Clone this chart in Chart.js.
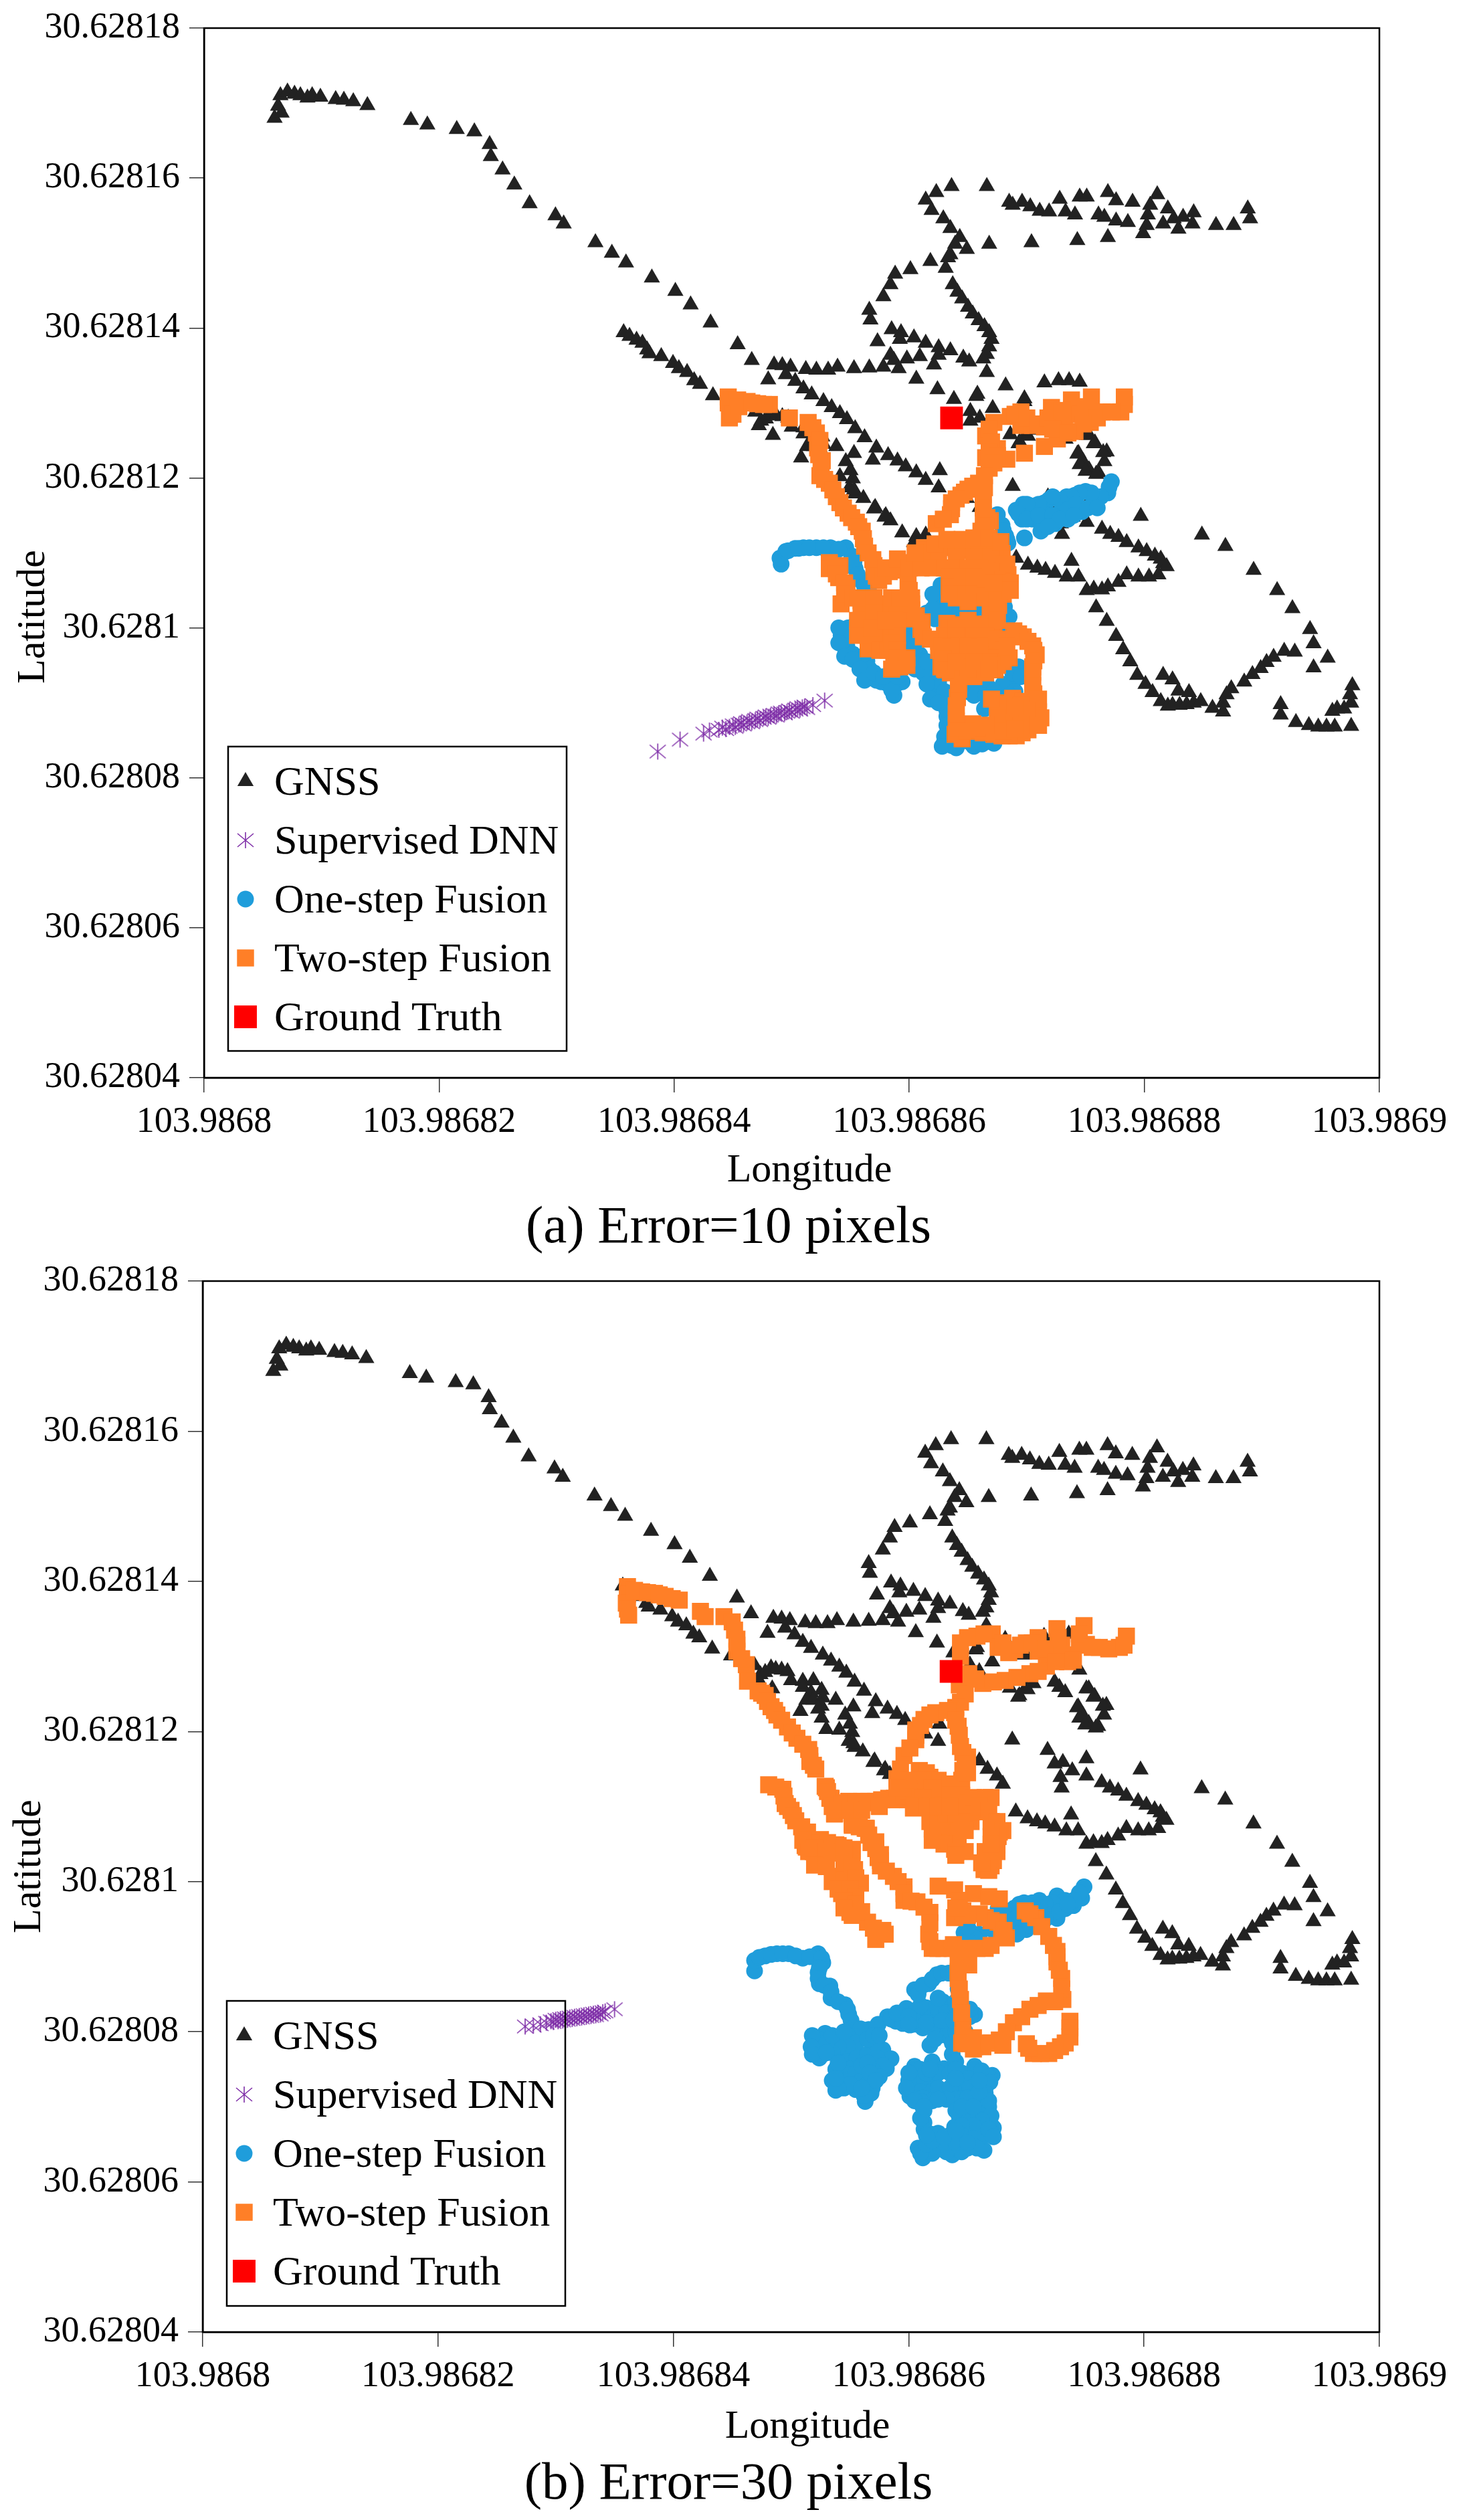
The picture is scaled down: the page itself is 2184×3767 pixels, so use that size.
<!DOCTYPE html>
<html>
<head>
<meta charset="utf-8">
<title>Error=10 and Error=30 pixels</title>
<script src="https://cdn.jsdelivr.net/npm/chart.js@4/dist/chart.umd.min.js"></script>
<style>
  html, body { margin: 0; padding: 0; background: #fff; }
  canvas { position: absolute; left: 0; }
</style>
</head>
<body>
<canvas id="panelA" width="2184" height="1900" style="top:-10px"></canvas>
<canvas id="panelB" width="2184" height="1907" style="top:1860px"></canvas>
<script>
// Tick labels. Points are [lon, lat] in units of 1e-7 degree, from the lower left corner of the axes
const lonTicks = ['103.9868', '103.98682', '103.98684', '103.98686', '103.98688', '103.9869'];
const latTicks = ['30.62804', '30.62806', '30.62808', '30.6281', '30.62812', '30.62814', '30.62816', '30.62818'];
const seriesNames = ['GNSS', 'Supervised DNN', 'One-step Fusion', 'Two-step Fusion', 'Ground Truth'];

const gnss = [
  [60,1280],[66,1287],[63,1296],[65,1310],[71,1315],[77,1312],[82,1310],[88,1307],[92,1310],[99,1308],[112,1305],[119,1304],[127,1302],[139,1297],
  [176,1277],[190,1271],[215,1265],[230,1262],[243,1245],[244,1229],[254,1211],[264,1191],[277,1166],[299,1150],[306,1139],[333,1114],[347,1100],[359,1087],
  [381,1067],[401,1049],[414,1031],[431,1007],[454,978],[466,957],
  [357,994],[362,989],[368,984],[373,980],[377,971],[379,966],[389,962],[399,953],[404,946],[411,941],[417,930],[422,925],[433,910],[449,901],
  [614,1171],[623,1181],[636,1189],[666,1189],[685,1168],[688,1164],[696,1168],[703,1162],[711,1156],[719,1155],[728,1172],[733,1155],[741,1151],[745,1175],
  [751,1175],[761,1151],[766,1148],[769,1181],[776,1170],[776,1143],[786,1141],[790,1168],[805,1164],[803,1151],[802,1137],[811,1178],[816,1139],[820,1159],
  [825,1146],[829,1132],[833,1148],[842,1154],[841,1139],[861,1137],[876,1137],[888,1159],[890,1146],[769,1121],[743,1117],[704,1114],[668,1112],[799,1126],
  [619,1157],[629,1146],[635,1133],[643,1121],[639,1112],[649,1105],[635,1098],[633,1094],[618,1089],[631,1080],[601,1078],[588,1072],[584,1058],[578,1042],
  [566,1024],[567,1011],[637,1058],[641,1048],[645,1039],[650,1028],[654,1019],[659,1010],[664,1002],[668,994],[670,985],[668,975],[666,965],[663,959],[666,941],
  [585,998],[593,994],[592,985],[604,987],[614,980],[625,974],[635,970],[625,964],[646,960],[651,955],[621,951],[609,962],[598,959],[584,964],[573,982],[587,957],
  [591,946],[578,948],[606,932],[624,918],[658,912],[682,923],[715,927],[727,930],[736,930],[745,928],[698,906],[638,905],
  [485,951],[492,950],[499,948],[512,945],[521,944],[531,944],[539,948],[553,946],[566,947],[480,931],[495,938],[503,929],[510,919],[517,911],[527,902],[534,894],
  [541,886],[547,878],[554,866],[562,854],[572,840],[582,830],[590,823],[597,815],[606,807],[614,797],[626,810],[625,787],[649,773],[688,789],[571,761],[580,750],
  [584,743],[594,727],[606,722],[604,714],[614,724],
  [469,888],[474,876],[478,879],[483,885],[487,883],[492,882],[497,880],[500,868],[510,867],[510,859],[519,868],[526,855],[517,852],[484,857],[472,870],
  [513,842],[519,842],[527,845],[526,834],[538,842],[523,830],[508,827],[526,818],[530,803],[541,802],[546,822],[553,833],[550,810],[552,799],[549,787],[554,779],
  [561,773],[553,784],[569,824],[570,759],[579,748],
  [718,775],[724,757],[731,759],[739,748],[751,764],[751,741],[729,739],[730,725],[797,749],[764,732],[771,725],[778,721],[785,714],[795,707],[802,702],[809,696],
  [816,686],[738,689],[701,684],[709,680],[716,677],[724,673],[734,668],[744,668],[751,650],[757,652],[764,651],[769,655],[778,661],[785,671],[795,668],[804,668],
  [812,671],[691,693],[680,730],[675,741],[667,750],[660,761],
  [759,627],[768,609],[776,589],[782,571],[788,555],[794,537],[801,525],[807,514],[814,502],[820,496],[816,537],
  [824,497],[830,497],[836,498],[842,500],[848,502],[824,531],[829,516],[838,514],
  [849,724],[869,709],[893,677],[913,650],[926,626],[941,598],[944,579],[956,560],[944,547],[928,568],[919,569],[910,561],[904,554],[899,546],[892,538],[885,528],
  [874,519],[870,511],[867,500],[858,493],[867,488],[916,498],[916,484],[929,474],[940,470],[948,468],[955,468],[962,468],[976,469],[960,489],[964,492],[970,492],
  [976,500],[975,511],[977,523],[814,692],[819,682],
  [761,807],[766,822],[768,835],[758,847],[753,857],[744,833],[748,822],[753,811],[745,882],[751,857],[757,846],[765,834],[743,832],[745,818],[750,809],[759,805],
  [724,866],[733,852],[706,864],[699,857],[693,846],[671,893],[660,880],[657,909],[698,902],[686,858],[694,848],[701,856],[728,859],[652,889],[652,876]
];

const dnnA = [
  [386,435],[405,451],[425,459],[430,463],[438,464],[441,467],[444,465],[447,468],[450,470],[452,468],[455,471],[457,473],[459,471],[462,474],[464,476],[466,474],[469,477],
  [471,479],[473,477],[476,480],[478,482],[480,480],[482,483],[485,484],[487,483],[489,486],[491,487],[494,486],[496,488],[498,490],[500,488],[503,491],[505,493],
  [507,491],[509,494],[511,495],[513,493],[518,497],[528,503]
];
const dnnB = [
  [274,407],[281,408],[287,410],[292,412],[296,414],[298,413],[300,416],[302,414],[304,417],[306,415],[308,418],[310,416],[312,419],[314,417],[316,420],[318,418],
  [320,421],[322,419],[324,422],[326,420],[328,423],[330,421],[332,424],[334,422],[336,425],[338,423],[340,426],[342,427],[350,430]
];

const oneStepA = [
  [491,685],[490,693],[495,702],[503,706],[510,707],[521,707],[533,707],[546,707],[551,696],[554,679],[559,663],[566,647],[627,657],[623,636],[632,624],[642,624],
  [653,624],[661,628],[681,628],[681,618],[675,600],[622,612],[615,620],[543,596],[545,582],[546,568],[554,604],[564,556],[568,534],[576,528],[587,524],[594,528],
  [587,510],[599,592],[599,576],[609,564],[612,548],[625,528],[622,514],[635,500],[660,520],[668,520],[688,528],[693,548],[664,492],[632,482],[630,448],[636,443],
  [651,448],[665,448],
  [772,795],[769,780],[758,769],[750,782],[741,777],[734,775],[747,755],[735,745],[724,739],[719,771],[715,767],[703,763],[697,765],[691,757],[696,745],[705,745],
  [712,729],[698,720],[716,751],[729,755],[675,751],[679,737],[682,723],[684,713],[678,719],
  [497,703],[506,706],[515,707],[527,707],[540,705],[553,688],[556,671],[562,655],[620,645],[628,620],[637,624],[647,624],[657,626],[670,628],
  [548,600],[542,590],[547,575],[552,565],[560,562],[566,545],[572,530],[581,526],[590,526],[585,517],[600,585],[604,570],[610,556],[618,540],[626,520],[628,510],
  [632,490],[632,470],[630,455],[642,446],[658,448],[690,535],[685,525],[680,525],
  [770,788],[763,775],[755,780],[745,780],[738,775],[728,770],[722,775],[710,765],[700,765],[693,752],[700,745],[710,750],[722,750],[735,758],[742,765],[752,760],
  [760,760],[728,745],[740,750],[718,735],[680,730],[683,718],
  [540,600],[540,580],[545,562],[552,558],[558,545],[562,530],[570,540],[578,535],[590,535],[595,585],[595,570],[605,575],[610,555],[605,545],[612,540],[615,555],
  [630,630],[645,630],[655,630],[665,625],[620,625],[675,612],[685,615],[680,605],[615,525],[630,515],[618,505],[625,500],[650,515],[655,510],[665,510],[672,515],
  [688,540],[695,535],[690,515],[685,510],[628,442],[640,440],[655,442],[662,445],[672,446]
];
const oneStepB = [
  [469,481],[469,495],[478,501],[488,504],[498,504],[510,498],[523,504],[527,492],[523,479],[524,464],[533,461],[534,445],[546,436],[549,423],[552,407],[566,403],
  [582,420],[589,414],[601,409],[607,410],[598,431],[615,432],[629,440],[624,420],[630,404],[618,382],[605,456],[617,464],[624,476],[639,479],[642,457],[656,423],
  [529,398],[523,390],[523,378],[524,365],[543,370],[555,376],[557,392],[578,376],[585,364],[581,351],[543,332],[555,323],[569,325],[563,307],[601,314],[605,354],
  [620,360],[630,351],[604,332],[618,332],[639,335],[630,317],[645,317],[645,332],[656,354],[671,342],[665,325],[665,310],[613,295],[613,279],[643,287],[659,292],
  [669,279],[639,273],[656,267],[618,264],[612,232],[637,236],[664,242],[672,272],[625,245],[650,245],[660,260],[608,245],
  [749,593],[747,578],[733,564],[726,581],[711,575],[718,564],[726,551],[711,542],[700,536],[694,570],[685,561],[676,564],[653,532],[647,532],[697,548],[740,568],[653,520],
  [473,499],[483,503],[493,504],[504,501],[516,500],[526,498],[524,485],[523,471],[528,462],[534,453],[540,440],[548,430],[551,415],[553,405],[559,404],[574,410],
  [585,417],[595,411],[604,410],
  [540,390],[548,395],[555,385],[548,380],[540,380],[535,372],[530,385],[527,370],[548,360],[556,365],[565,370],[572,385],[565,390],[573,365],[578,355],[550,350],
  [545,345],[555,345],[560,335],[545,325],[550,330],[565,330],[568,318],[562,315],[570,347],
  [610,350],[612,340],[625,345],[635,345],[645,345],[610,320],[620,320],[625,325],[635,325],[612,312],[620,308],[650,338],[652,325],[640,310],[632,310],[650,312],
  [605,425],[612,420],[620,430],[625,430],[632,425],[635,415],[632,395],[626,395],[620,405],[612,405],[605,415],[622,390],[635,405],[595,420],[590,425],[610,435],
  [608,450],[612,462],[620,470],[628,478],[634,478],[652,420],[648,400],[636,400],[637,385],[637,370],[640,360],[640,350],[662,348],[668,340],[669,333],[665,318],
  [668,300],[670,288],[662,282],[650,285],[655,275],[645,275],[613,270],[625,265],[635,262],[645,262],[655,258],[665,262],[668,270],[672,260],[658,245],[645,240],
  [632,240],[620,238],[610,238],[615,250],[630,252],[640,252],[650,252],[611,307],[612,300],
  [745,585],[740,575],[733,575],[722,572],[716,570],[705,572],[698,572],[690,565],[680,562],[690,550],[700,548],[710,550],[720,555],[728,560],[735,570],[705,555],
  [716,550],[703,542],[660,530],[656,525],[650,522],[650,540],[672,535],[685,540],[692,530],
  [518,395],[517,380],[518,370],[530,372],[535,395],[570,395],[545,400],[538,350],[540,358],[575,340],[560,355],[565,358],[575,395],[567,345],[572,335],[560,325],
  [538,322],[535,335],[540,325],[538,338],[600,335],[600,345],[615,345],[598,325],[605,308],[625,310],[618,350],[640,338],
  [600,420],[600,410],[615,412],[628,415],[640,400],[638,415],[645,430],[652,430],[640,435],[640,440],[625,445],
  [620,255],[630,260],[615,262],[640,268],[640,295],[645,300],[655,300],[668,308],[660,320],[660,335],[610,285],[613,300]
];

const twoStepA = [
  [447,880],[448,890],[446,900],[446,908],[454,904],[462,902],[471,899],[481,898],[498,880],[514,874],[521,860],[522,840],[526,823],[524,803],[532,793],[538,775],
  [541,767],[548,753],[555,741],[560,729],[562,709],[569,691],[570,675],[574,663],[583,675],[592,679],[602,687],[613,695],[613,707],[625,711],[635,707],[645,703],
  [658,711],[668,707],[679,699],[684,671],[678,671],[668,691],[663,667],[653,667],[640,659],[640,647],[651,643],[678,655],[673,644],[669,628],[669,608],[672,596],
  [672,874],[665,856],[675,839],[665,827],[683,825],[668,813],[659,793],[650,785],[644,777],[636,767],[635,751],[623,739],[664,787],[663,769],[663,751],[669,743],
  [661,729],[661,717],
  [686,882],[695,888],[695,870],[705,870],[715,868],[721,894],[726,878],[738,904],[738,886],[741,862],[755,908],[754,874],[764,888],[780,888],[783,898],[783,908],
  [726,852],[715,842],[698,833],
  [532,687],[541,683],[532,679],[540,667],[547,653],[542,632],[559,636],[569,628],[581,632],[559,620],[562,602],[583,604],[597,612],[566,588],[565,572],[579,578],
  [587,564],[587,548],[595,558],[599,659],[602,640],[602,624],[611,608],[612,588],[625,582],[631,568],[627,548],[635,540],[632,606],[644,604],[655,600],[670,600],
  [645,582],[645,560],[658,552],[673,544],[668,576],[678,576],[678,564],[660,564],[642,548],
  [689,596],[697,588],[705,576],[708,564],[705,548],[705,534],[706,512],[710,488],[706,480],[701,464],[691,456],[679,456],[675,496],[688,506],[697,502],[700,476],
  [681,476],[663,460],[654,472],[645,452],[639,458],[640,476],[640,496],[642,518],[642,532],
  [518,867],[524,850],[523,831],[525,813],[528,798],[535,784],[544,760],[551,747],[557,735],[561,719],[565,700],[570,683],[572,669],[578,669],[587,677],[597,683],
  [607,691],[619,700],[630,709],[640,705],[651,707],[663,709],[673,703],[683,685],[681,660],[676,650],[671,636],[669,618],[670,602],
  [615,690],[625,700],[640,695],[655,695],[670,695],[680,685],[640,680],[650,680],[660,680],[670,675],[675,665],
  [645,655],[655,650],[665,655],[670,640],[680,645],[660,640],[650,635],[676,630],[640,640],[665,600],[675,610],[635,600],[650,610],[660,605],[640,600],
  [630,590],[640,590],[655,590],[665,590],[675,585],[680,570],[670,560],[655,535],[630,560],[625,570],[635,575],[650,570],[630,545],[650,545],[665,540],[680,555],
  [693,592],[701,582],[706,570],[706,556],[705,541],[705,523],[708,500],[708,494],[704,472],[696,460],[685,456],[672,458],[658,466],[649,462],[640,467],[640,486],
  [641,507],[642,525],[680,490],[682,500],[695,497],[692,482],[670,470],[685,470],
  [536,680],[538,672],[545,660],[545,645],[552,640],[562,628],[570,632],[575,620],[585,620],[590,625],[570,610],[575,595],[585,595],[590,610],[570,590],[575,570],
  [582,570],[592,548],[600,650],[602,632],[606,616],[610,598],[618,585],[628,575],[629,558],[631,544],
  [690,885],[700,880],[710,872],[718,880],[730,890],[732,870],[745,885],[750,895],[760,880],[772,888],[748,872],[722,865],[735,860],
  [668,865],[670,848],[668,835],[675,830],[672,820],[664,803],[654,789],[647,781],[640,772],[636,759],[629,745],[663,778],[663,760],[666,747],[665,736],
  [450,885],[455,895],[466,900],[476,898],
  [580,680],[590,692],[600,680],[610,680],[620,680],[630,680],[605,700],[622,712],[632,718],[645,718],[655,720],[668,720],[678,715],
  [634,668],[634,655],[634,645],[686,660],[686,650],[645,668],[655,668],[665,665],[672,660],
  [556,640],[570,640],[585,640],[592,640],[556,610],[556,590],[570,620],[590,590],[585,580],[590,570],[568,600],[580,610],
  [590,560],[598,550],[585,545],[598,560],[650,575],[660,575],[668,555],[675,550],[640,555],[655,555],[685,560],[683,575],[668,545],
  [710,505],[712,480],[700,490],[690,495],[670,505],[675,480],[695,470],[710,470],[680,462],[690,465],[665,470]
];
const twoStepB = [
  [361,993],[361,983],[360,971],[362,955],[373,986],[384,984],[393,980],[405,975],[423,960],[427,953],[443,953],[450,946],[454,923],[454,907],[462,889],[463,867],
  [472,854],[478,848],[483,833],[488,822],[497,806],[505,791],[515,776],[516,760],[521,750],[529,727],[534,711],[537,690],[549,707],[560,707],[572,707],[583,711],
  [593,712],[481,729],[493,723],[495,704],[500,695],[504,681],[514,666],[513,646],[525,656],[525,629],[538,649],[552,641],[552,677],[563,671],[572,653],[574,632],
  [644,918],[658,927],[671,930],[676,912],[690,909],[700,918],[710,925],[710,907],[724,907],[726,937],[735,902],[749,941],[751,916],[762,912],[779,912],[785,927],
  [735,893],[717,887],[703,877],[682,868],[663,864],[651,877],[643,862],[644,839],[623,825],[613,816],[606,802],[606,789],[596,768],[590,737],[639,825],[642,807],
  [644,780],[650,766],[646,748],[639,730],[609,748],[618,739],[630,730],[609,725],[623,712],[599,709],[585,709],[571,705],[557,702],[543,705],[537,691],[530,725],
  [533,711],[670,712],[660,707],[646,698],[653,680],[658,693],[670,680],[677,666],[675,648],[670,621],[664,616],[637,684],[634,671],[625,657],[639,643],[618,680],
  [604,698],[552,675],[564,671],[568,652],[576,636],[576,621],[587,607],[596,593],[596,575],[607,573],[618,559],[617,530],[620,511],[630,511],[512,648],[526,650],
  [526,630],[540,648],[552,643],[538,607],[554,616],[543,584],[559,598],[550,559],[565,546],[580,530],[572,523],[625,594],[639,589],[655,584],[677,577],[639,552],
  [646,561],[665,552],[676,546],[683,525],[665,511],[649,493],[638,516],[651,489],[699,561],[708,552],[719,527],[726,507],[726,493],[730,471],[731,443],[717,441],
  [703,430],[689,412],[677,389],[663,380],[649,384],[646,407],[644,443],[642,471],[642,493],[655,377],[737,414],[737,393],[729,380],[719,371],[706,371],[700,384],
  [367,988],[378,985],[388,982],[399,977],[361,963],[452,935],[454,915],[458,897],[475,851],[480,840],[486,828],[492,815],[501,798],[510,783],[516,768],[519,755],
  [531,720],[535,700],[543,703],[555,705],[566,707],[577,709],[588,711],[596,714],[604,716],[612,715],
  [487,726],[494,714],[497,700],[502,688],[509,673],[513,656],[519,651],[519,640],[531,652],[532,638],[545,645],[546,635],[545,620],[546,610],[550,600],[552,590],
  [558,673],[566,662],[572,644],[576,628],[581,614],[591,600],[596,584],[602,574],[613,566],[618,545],[618,520],[625,511],
  [637,511],[650,511],[658,511],[670,515],[679,530],[670,548],[660,557],[650,555],[643,575],[640,565],[668,580],[681,535],
  [615,745],[625,735],[635,730],[645,735],[650,745],[612,735],[620,725],[635,715],[645,715],[650,705],[600,720],[612,712],
  [655,712],[665,712],[660,700],[668,695],[675,680],[680,668],[676,660],[675,640],[672,628],[668,615],[662,625],[665,640],[670,660],[670,650],
  [620,670],[628,665],[635,660],[642,650],[630,650],[640,640],[625,675],[632,690],[640,690],[645,680],[648,668],
  [644,900],[650,870],[648,850],[640,832],[633,828],[618,822],[610,808],[606,795],[601,778],[593,750],[640,815],[643,795],[646,772],[648,756],
  [650,925],[664,930],[680,918],[685,905],[695,915],[705,918],[717,910],[730,915],[727,925],[745,915],[745,930],[756,912],[770,910],[783,915],[740,895],[725,893],
  [710,880],[692,872],[672,866],[657,870],
  [703,557],[713,540],[723,515],[726,500],[728,482],[730,457],[724,440],[710,435],[696,420],[683,400],[670,385],[656,380],[646,395],[645,425],[643,457],[642,480],
  [737,405],[733,385],[724,375],[712,371],[702,378],
  [510,655],[520,645],[532,640],[515,640],[530,640],[545,640],[520,622],[530,620],[545,625],[552,620],
  [535,600],[545,600],[555,605],[540,590],[550,590],[555,580],[545,575],[555,570],[545,565],[560,560],[552,555],[570,538],[578,535],
  [540,695],[550,695],[560,695],[575,700],[595,725],[600,735],[590,725],[605,700],[615,700],[625,700],[635,700],[620,655],[648,640],[640,635],
  [645,385],[655,392],[668,385],[680,382]
];

const groundTruth = [[636, 880]];

// asterisk without the horizontal stroke, canvas as pointStyle
function asteriskMark() {
  const c = document.createElement('canvas');
  c.width = 28;
  c.height = 28;
  const g = c.getContext('2d');
  g.strokeStyle = '#7F2FA8';
  g.lineWidth = 1.6;
  g.beginPath();
  g.moveTo(14, 2); g.lineTo(14, 26);
  g.moveTo(2, 4); g.lineTo(26, 24);
  g.moveTo(26, 4); g.lineTo(2, 24);
  g.stroke();
  return c;
}
const star = asteriskMark();

const styles = [
  { pointStyle: 'triangle', pointRadius: 14, color: '#222222', order: 5 },
  { pointStyle: star, pointRadius: 13, color: '#7F2FA8', order: 4 },
  { pointStyle: 'circle', pointRadius: 12.5, color: '#1F9DDB', order: 3 },
  { pointStyle: 'rect', pointRadius: 18, color: '#FF7F27', order: 2 },
  { pointStyle: 'rect', pointRadius: 24, color: '#FF0000', order: 1 }
];

const serif = 'Liberation Serif';

// legend, box outline, axis titles and caption
const panelText = {
  id: 'panelText',
  afterDraw(chart, args, o) {
    const { ctx, chartArea: a } = chart;
    ctx.save();
    ctx.strokeStyle = '#000';
    ctx.lineWidth = 2.5;
    ctx.strokeRect(a.left, a.top, a.right - a.left, a.bottom - a.top);

    ctx.fillStyle = '#000';
    ctx.textAlign = 'center';
    ctx.textBaseline = 'middle';
    ctx.font = '60px "' + serif + '"';
    ctx.fillText('Longitude', o.xTitle[0], o.xTitle[1]);
    ctx.save();
    ctx.translate(o.yTitle[0], o.yTitle[1]);
    ctx.rotate(-Math.PI / 2);
    ctx.fillText('Latitude', 0, 0);
    ctx.restore();
    ctx.font = '79px "' + serif + '"';
    ctx.fillText(o.caption, o.captionAt[0], o.captionAt[1]);

    const [bx, by, bw, bh] = o.legendBox;
    ctx.lineWidth = 2.5;
    ctx.strokeRect(bx, by, bw, bh);
    ctx.textAlign = 'left';
    ctx.font = '62px "' + serif + '"';
    seriesNames.forEach((name, i) => {
      const y = by + 52 + i * 88;
      const s = styles[i];
      ctx.fillStyle = s.color;
      ctx.strokeStyle = s.color;
      Chart.helpers.drawPoint(ctx, { pointStyle: s.pointStyle, radius: s.pointRadius, rotation: 0, borderWidth: 0 }, bx + 26, y);
      ctx.fillStyle = '#000';
      ctx.fillText(name, bx + 69, y + 4);
    });
    ctx.restore();
  }
};

function drawPanel(id, series, p) {
  const canvas = document.getElementById(id);
  const datasets = series.map((pts, i) => ({
    label: seriesNames[i],
    data: pts.map(([x, y]) => ({ x, y })),
    showLine: false,
    pointStyle: styles[i].pointStyle,
    pointRadius: styles[i].pointRadius,
    pointBackgroundColor: styles[i].color,
    pointBorderWidth: 0,
    order: styles[i].order
  }));
  new Chart(canvas, {
    type: 'scatter',
    data: { datasets },
    plugins: [panelText],
    options: {
      responsive: false,
      devicePixelRatio: 1,
      animation: false,
      events: [],
      layout: { padding: { left: 0, top: p.top, right: 2184 - p.right, bottom: 0 } },
      plugins: {
        legend: { display: false },
        tooltip: { enabled: false },
        panelText: p.text
      },
      scales: {
        x: {
          type: 'linear',
          min: 0,
          max: 1000,
          afterFit: s => { s.height = canvas.height - p.bottom; },
          border: { color: '#000', width: 2.5 },
          grid: { drawOnChartArea: false, tickLength: 22, tickColor: '#333', lineWidth: 1.5 },
          ticks: {
            stepSize: 200,
            maxRotation: 0,
            autoSkip: false,
            padding: 12,
            color: '#000',
            font: { family: serif, size: 54 },
            callback: v => lonTicks[v / 200]
          }
        },
        y: {
          type: 'linear',
          min: 0,
          max: 1400,
          afterFit: s => { s.width = p.left; },
          border: { color: '#000', width: 2.5 },
          grid: { drawOnChartArea: false, tickLength: 22, tickColor: '#333', lineWidth: 1.5 },
          ticks: {
            stepSize: 200,
            autoSkip: false,
            padding: 14,
            color: '#000',
            font: { family: serif, size: 54 },
            callback: v => latTicks[v / 200]
          }
        }
      }
    }
  });
}

drawPanel('panelA', [gnss, dnnA, oneStepA, twoStepA, groundTruth], {
  left: 305, right: 2062, top: 52, bottom: 1621,
  text: {
    caption: '(a) Error=10 pixels', captionAt: [1089, 1846],
    xTitle: [1210, 1760], yTitle: [50, 932],
    legendBox: [341, 1126, 506, 455]
  }
});

drawPanel('panelB', [gnss, dnnB, oneStepB, twoStepB, groundTruth], {
  left: 303, right: 2062, top: 55, bottom: 1626,
  text: {
    caption: '(b) Error=30 pixels', captionAt: [1089, 1854],
    xTitle: [1207, 1768], yTitle: [44, 930],
    legendBox: [339, 1131, 506, 456]
  }
});
</script>
</body>
</html>
